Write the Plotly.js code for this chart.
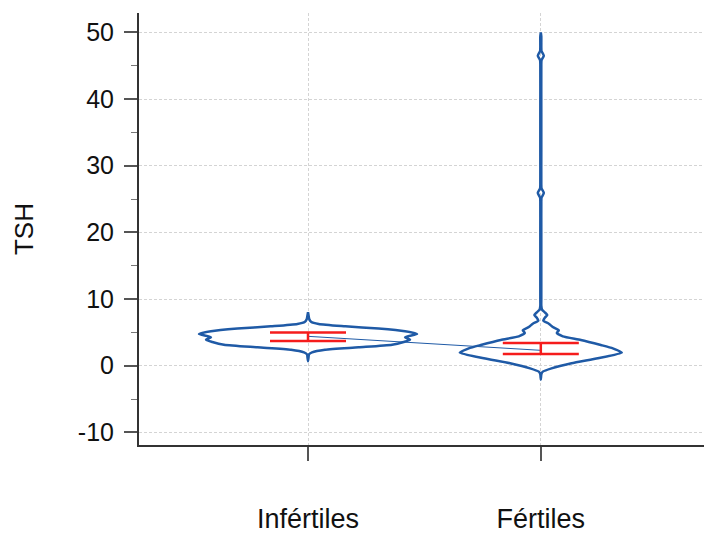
<!DOCTYPE html>
<html>
<head>
<meta charset="utf-8">
<script src="https://cdn.plot.ly/plotly-3.0.1.min.js"></script>
<style>html,body{margin:0;padding:0;background:#fff;}#chart{width:704px;height:533px;}</style>
</head>
<body>
<div id="chart"></div>
<script>
// ---- Data ----
const categories = ["Infértiles", "Fértiles"];
const yTickVals = [-10, 0, 10, 20, 30, 40, 50];
const yTickText = ["-10", "0", "10", "20", "30", "40", "50"];
const yMinorVals = [-5, 5, 15, 25, 35, 45];

// Density profiles (TSH level -> relative density, arbitrary units)
const infLevels  = [0.66, 1.2, 1.7, 2.0, 2.4, 2.76, 3.15, 3.56, 3.9, 4.26, 4.76, 5.16, 5.56, 5.9, 6.26, 6.6, 7.0, 7.5, 8.0];
const infDensity = [0,    0.5, 1,   4,   17,  50.6, 84,   95.6, 102, 97,   109,  97,   70.6, 37.3, 10.6, 3,   1.2, 0.6, 0];

const ferLevels  = [-2.1, -1.3, -0.9, -0.4, 0.36, 1.11, 1.95, 2.6, 3.1, 3.86, 4.4, 4.9, 5.3, 5.8, 6.3, 6.76, 7.2, 7.6, 8.0, 8.4, 9.0, 10.0, 15.0, 20.0, 24.6, 25.2, 25.9, 26.6, 27.2, 32.0, 38.0, 45.2, 45.8, 46.5, 47.2, 47.8, 49.4, 50.0];
const ferDensity = [0,    0.5,  2,    10.7, 30.7, 57,   81,   72,  60,  40,   22,  16,  18,  12,  8,   2.5,  4,   6.5, 4,   1.2, 0.5, 0.5,  0.5,  0.5,  0.5,  0.7,  3,    0.7,  0.5,  0.5,  0.5,  0.5,  0.7,  3,    0.7,  0.5,  0.5,  0];

// Central values (connected line) and interval bounds (red bars)
const centers = [4.4, 2.3];
const upper   = [4.96, 3.41];
const lower   = [3.7, 1.75];

// ---- Styling ----
const BLUE = "#1f5aa6";
const RED = "#f51c1c";
const DENS_SCALE = 1 / 232.7; // x-axis units per density unit

function violinOutline(pos, levels, dens) {
  const xs = [], ys = [];
  for (let i = 0; i < levels.length; i++) { xs.push(pos + dens[i] * DENS_SCALE); ys.push(levels[i]); }
  for (let i = levels.length - 1; i >= 0; i--) { xs.push(pos - dens[i] * DENS_SCALE); ys.push(levels[i]); }
  return {x: xs, y: ys};
}

const v1 = violinOutline(0, infLevels, infDensity);
const v2 = violinOutline(1, ferLevels, ferDensity);

const traces = [
  {type: "scatter", mode: "lines", x: v1.x, y: v1.y, line: {color: BLUE, width: 2.5, shape: "spline", smoothing: 0.6}, hoverinfo: "skip"},
  {type: "scatter", mode: "lines", x: v2.x, y: v2.y, line: {color: BLUE, width: 2.5, shape: "spline", smoothing: 0.5}, hoverinfo: "skip"},
  {type: "scatter", mode: "lines", x: [0, 1], y: centers, line: {color: BLUE, width: 1}, hoverinfo: "skip"},
  {type: "scatter", mode: "markers", x: [0, 1], y: centers, marker: {size: 1, opacity: 0},
   error_y: {type: "data", symmetric: false,
     array: upper.map((u, i) => u - centers[i]),
     arrayminus: lower.map((l, i) => centers[i] - l),
     color: RED, thickness: 2.5, width: 38}, hoverinfo: "skip"}
];

const layout = {
  width: 704, height: 533,
  margin: {l: 139, r: 0, t: 13, b: 88},
  paper_bgcolor: "#fff", plot_bgcolor: "#fff",
  showlegend: false,
  font: {family: "Liberation Sans, Arial, sans-serif", color: "#111"},
  xaxis: {
    range: [-0.726, 1.701],
    tickmode: "array", tickvals: [0, 1], ticktext: categories,
    ticks: "outside", ticklen: 14, tickwidth: 2, tickcolor: "#555",
    ticklabelstandoff: 35,
    tickfont: {size: 27},
    showline: true, linecolor: "#333", linewidth: 2,
    showgrid: true, gridcolor: "#d4d4d4", gridwidth: 1, griddash: "3px,2px",
    zeroline: false, fixedrange: true
  },
  yaxis: {
    range: [-11.9, 52.9],
    tickmode: "array", tickvals: yTickVals, ticktext: yTickText,
    ticks: "outside", ticklen: 13, tickwidth: 2, tickcolor: "#555",
    ticklabelstandoff: 5,
    tickfont: {size: 25},
    minor: {tickmode: "array", tickvals: yMinorVals, ticks: "outside", ticklen: 6, tickwidth: 1, tickcolor: "#777", showgrid: false},
    showline: true, linecolor: "#333", linewidth: 2,
    showgrid: true, gridcolor: "#d4d4d4", gridwidth: 1, griddash: "3px,2px",
    zeroline: false, fixedrange: true,
    title: {text: "TSH", font: {size: 26}, standoff: 37}
  }
};

Plotly.newPlot("chart", traces, layout, {staticPlot: true, displayModeBar: false});
</script>
</body>
</html>
